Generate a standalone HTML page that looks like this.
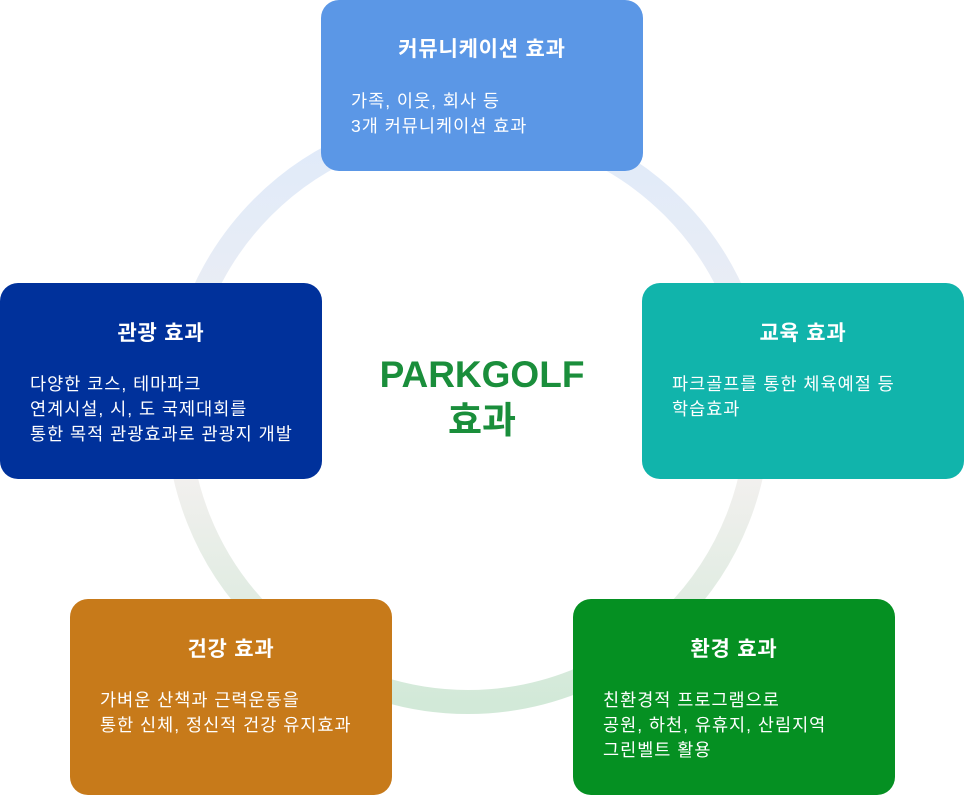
<!DOCTYPE html>
<html><head><meta charset="utf-8"><style>
body{margin:0;width:964px;height:796px;background:#fff;position:relative;overflow:hidden;font-family:"Liberation Sans","Noto Sans CJK KR",sans-serif;}
.b{position:absolute;width:322px;border-radius:18px;color:#fff;box-sizing:border-box;}
.b h3{margin:0;font-size:21px;letter-spacing:0.8px;font-weight:bold;text-align:center;position:absolute;left:0;right:0;}
.b p{margin:0;font-size:17.5px;letter-spacing:1px;line-height:25px;position:absolute;left:30px;white-space:nowrap;}
.c{position:absolute;left:332px;width:300px;text-align:center;color:#1a8e3b;font-weight:bold;font-size:37px;line-height:46px;top:352px;}
</style></head><body>
<svg width="964" height="796" style="position:absolute;left:0;top:0">
<defs><linearGradient id="g" x1="0" y1="0" x2="0" y2="1">
<stop offset="0" stop-color="#dfeafa"/><stop offset="0.6" stop-color="#f3f0ef"/><stop offset="1" stop-color="#d2e9d8"/></linearGradient></defs>
<circle cx="468" cy="412" r="290" fill="none" stroke="url(#g)" stroke-width="24"/>
</svg>
<div class="b" style="left:321px;top:0;height:171px;background:#5b97e6"><h3 style="top:33px">커뮤니케이션 효과</h3><p style="top:89px">가족, 이웃, 회사 등<br>3개 커뮤니케이션 효과</p></div>
<div class="b" style="left:0;top:283px;height:196px;background:#00319b"><h3 style="top:34px">관광 효과</h3><p style="top:89px">다양한 코스, 테마파크<br>연계시설, 시, 도 국제대회를<br>통한 목적 관광효과로 관광지 개발</p></div>
<div class="b" style="left:642px;top:283px;height:196px;background:#11b4ab"><h3 style="top:34px">교육 효과</h3><p style="top:89px">파크골프를 통한 체육예절 등<br>학습효과</p></div>
<div class="b" style="left:70px;top:599px;height:196px;background:#c77a1a"><h3 style="top:34px">건강 효과</h3><p style="top:89px">가벼운 산책과 근력운동을<br>통한 신체, 정신적 건강 유지효과</p></div>
<div class="b" style="left:573px;top:599px;height:196px;background:#059022"><h3 style="top:34px">환경 효과</h3><p style="top:89px">친환경적 프로그램으로<br>공원, 하천, 유휴지, 산림지역<br>그린벨트 활용</p></div>
<div class="c">PARKGOLF<br>효과</div>
</body></html>
